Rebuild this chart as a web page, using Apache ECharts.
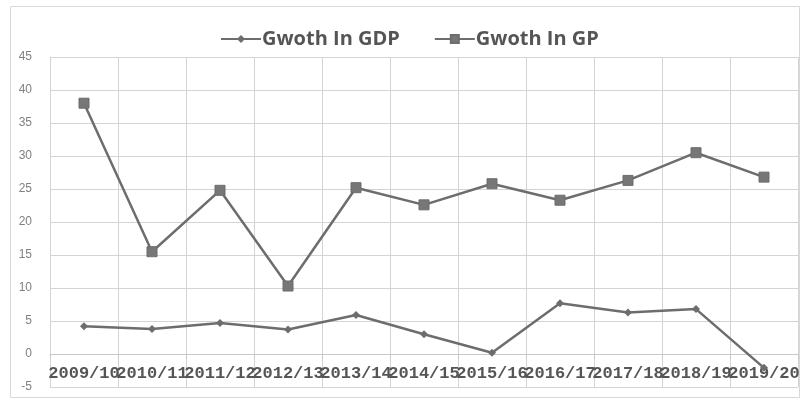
<!DOCTYPE html>
<html>
<head>
<meta charset="utf-8">
<script src="https://cdn.jsdelivr.net/npm/echarts@6/dist/echarts.min.js"></script>
<style>
  html, body { margin: 0; padding: 0; background: #ffffff; }
  #chart { width: 802px; height: 402px; }
</style>
</head>
<body>
<div id="chart"></div>
<script>
// Fiscal years on the category axis
const years = ['2009/10', '2010/11', '2011/12', '2012/13', '2013/14', '2014/15',
               '2015/16', '2016/17', '2017/18', '2018/19', '2019/20'];
// Growth in GDP (%)
const growthGDP = [4.2, 3.8, 4.7, 3.7, 5.9, 3.0, 0.2, 7.7, 6.3, 6.8, -2.1];
// Growth in GP (%)
const growthGP = [38.0, 15.5, 24.8, 10.3, 25.2, 22.6, 25.8, 23.3, 26.3, 30.5, 26.8];
// Value axis settings
const yMin = -5, yMax = 45, yStep = 5;

const lineColor = '#6d6d6d';
const gridTop = 57, gridBottom = 15, chartH = 402;
// The category axis crosses the value axis at zero
const plotH = chartH - gridTop - gridBottom;
const zeroOffset = -plotH * (0 - yMin) / (yMax - yMin);

const chart = echarts.init(document.getElementById('chart'), null, { renderer: 'canvas' });

chart.setOption({
  animation: false,
  backgroundColor: '#ffffff',
  graphic: [{
    type: 'rect',
    shape: { x: 10.5, y: 6.5, width: 789, height: 391 },
    style: { fill: 'none', stroke: '#d9d9d9', lineWidth: 1 },
    silent: true, z: -1
  }],
  legend: {
    top: 24,
    left: 215,
    itemWidth: 40,
    itemHeight: 10,
    itemGap: 34,
    textStyle: { fontFamily: 'Open Sans', fontWeight: 'bold', fontSize: 20, color: '#555555', padding: [0, 0, 0, -4] },
    data: ['Gwoth In GDP', 'Gwoth In GP']
  },
  grid: { left: 50, right: 4, top: gridTop, bottom: gridBottom, containLabel: false, outerBoundsMode: 'none' },
  xAxis: {
    type: 'category',
    data: years,
    position: 'bottom',
    offset: zeroOffset,
    boundaryGap: true,
    axisLine: { onZero: false, lineStyle: { color: '#c8c8c8', width: 1 } },
    axisTick: { show: true, length: 5, lineStyle: { color: '#c8c8c8' } },
    axisLabel: {
      interval: 0,
      margin: 11,
      fontFamily: 'Liberation Mono',
      fontWeight: 'bold',
      fontSize: 17,
      color: '#555555',
      hideOverlap: false
    },
    splitLine: { show: true, interval: 0, lineStyle: { color: '#d4d4d4', width: 1 } }
  },
  yAxis: {
    type: 'value',
    min: yMin,
    max: yMax,
    interval: yStep,
    axisLine: { show: true, lineStyle: { color: '#d4d4d4' } },
    axisTick: { show: false },
    axisLabel: { margin: 18, fontFamily: 'Liberation Sans', fontSize: 12, color: '#808080' },
    splitLine: { show: true, lineStyle: { color: '#d4d4d4', width: 1 } }
  },
  series: [
    {
      name: 'Gwoth In GDP',
      type: 'line',
      data: growthGDP,
      symbol: 'diamond',
      symbolSize: 8,
      lineStyle: { color: lineColor, width: 2.5 },
      itemStyle: { color: lineColor },
      z: 3
    },
    {
      name: 'Gwoth In GP',
      type: 'line',
      data: growthGP,
      symbol: 'rect',
      symbolSize: 10,
      lineStyle: { color: lineColor, width: 2.5 },
      itemStyle: { color: '#777777', borderColor: lineColor, borderWidth: 1 },
      z: 3
    }
  ]
});
</script>
</body>
</html>
